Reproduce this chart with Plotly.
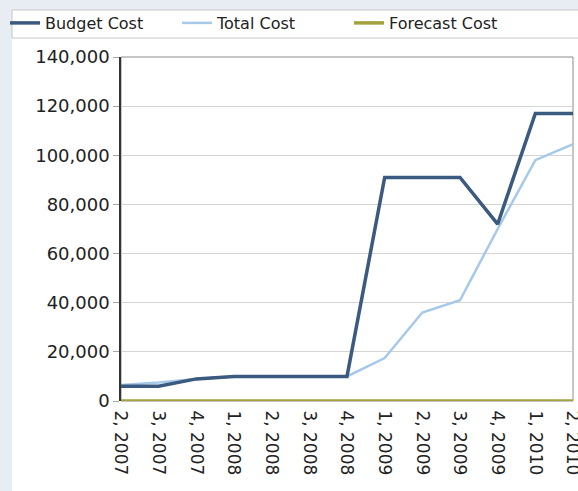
import plotly.graph_objects as go

categories = ["2, 2007", "3, 2007", "4, 2007", "1, 2008", "2, 2008", "3, 2008", "4, 2008",
              "1, 2009", "2, 2009", "3, 2009", "4, 2009", "1, 2010", "2, 2010"]
budget_cost = [6000, 6000, 9000, 10000, 10000, 10000, 10000, 91000, 91000, 91000, 72000, 117000, 117000]
total_cost = [6500, 7500, 9000, 10000, 10000, 10000, 10000, 17500, 36000, 41000, 70000, 98000, 104500]
forecast_cost = [0] * 13
y_ticks = [0, 20000, 40000, 60000, 80000, 100000, 120000, 140000]

W, H = 578, 491
L, R, T, B = 121, 5, 57, 90
pw, ph = W - L - R, H - T - B

def px_x(p):
    return (p - L) / pw

def px_y(p):
    return (H - B - p) / ph

fig = go.Figure()
fig.add_trace(go.Scatter(x=categories, y=total_cost, name="Total Cost", mode="lines",
                         line=dict(color="#a6c9ea", width=2.5), legendrank=2))
fig.add_trace(go.Scatter(x=categories, y=budget_cost, name="Budget Cost", mode="lines",
                         line=dict(color="#3a5a7f", width=3.5), legendrank=1))
fig.add_trace(go.Scatter(x=categories, y=forecast_cost, name="Forecast Cost", mode="lines",
                         line=dict(color="#a3a23c", width=3.5), legendrank=3))

fig.update_layout(
    width=W, height=H,
    margin=dict(l=L, r=R, t=T, b=B, autoexpand=False),
    paper_bgcolor="#e8edf3",
    plot_bgcolor="white",
    font=dict(family="DejaVu Sans", color="#222222"),
    showlegend=True,
    legend=dict(orientation="h", x=px_x(5), xanchor="left", y=px_y(6), yanchor="top",
                bgcolor="rgba(0,0,0,0)", borderwidth=0,
                font=dict(size=16, family="DejaVu Sans", color="#222222"),
                entrywidth=127, entrywidthmode="pixels", itemwidth=30,
                tracegroupgap=0),
    xaxis=dict(type="category", range=[0, 12], showgrid=False, tickangle=90,
               tickfont=dict(size=17), showline=False, ticks="outside", ticklen=5,
               tickcolor="rgba(0,0,0,0)", zeroline=False, automargin=False),
    yaxis=dict(range=[0, 140000], tickvals=y_ticks, tickformat=",", showgrid=True,
               gridcolor="#d4d4d4", gridwidth=1, showline=True, linecolor="#333333",
               linewidth=1.5, ticks="outside", ticklen=6, tickcolor="#aaaaaa",
               tickfont=dict(size=18), zeroline=False, automargin=False),
    shapes=[
        dict(type="rect", xref="paper", yref="paper", x0=px_x(12), x1=px_x(W + 5),
             y0=px_y(H + 5), y1=px_y(10), fillcolor="white", line=dict(width=0), layer="below"),
        dict(type="rect", xref="paper", yref="paper", x0=px_x(12), x1=px_x(W + 5),
             y0=px_y(38), y1=px_y(10), fillcolor="white",
             line=dict(color="#c8c8c8", width=1), layer="below"),
        dict(type="rect", xref="paper", yref="paper", x0=0, x1=1, y0=0, y1=1,
             line=dict(color="#8c8c8c", width=1), layer="below"),
    ],
)

fig.write_html("out.html", config={"displayModeBar": False},
               post_script="document.body.style.margin='0px';document.body.style.background='#e8edf3';")
